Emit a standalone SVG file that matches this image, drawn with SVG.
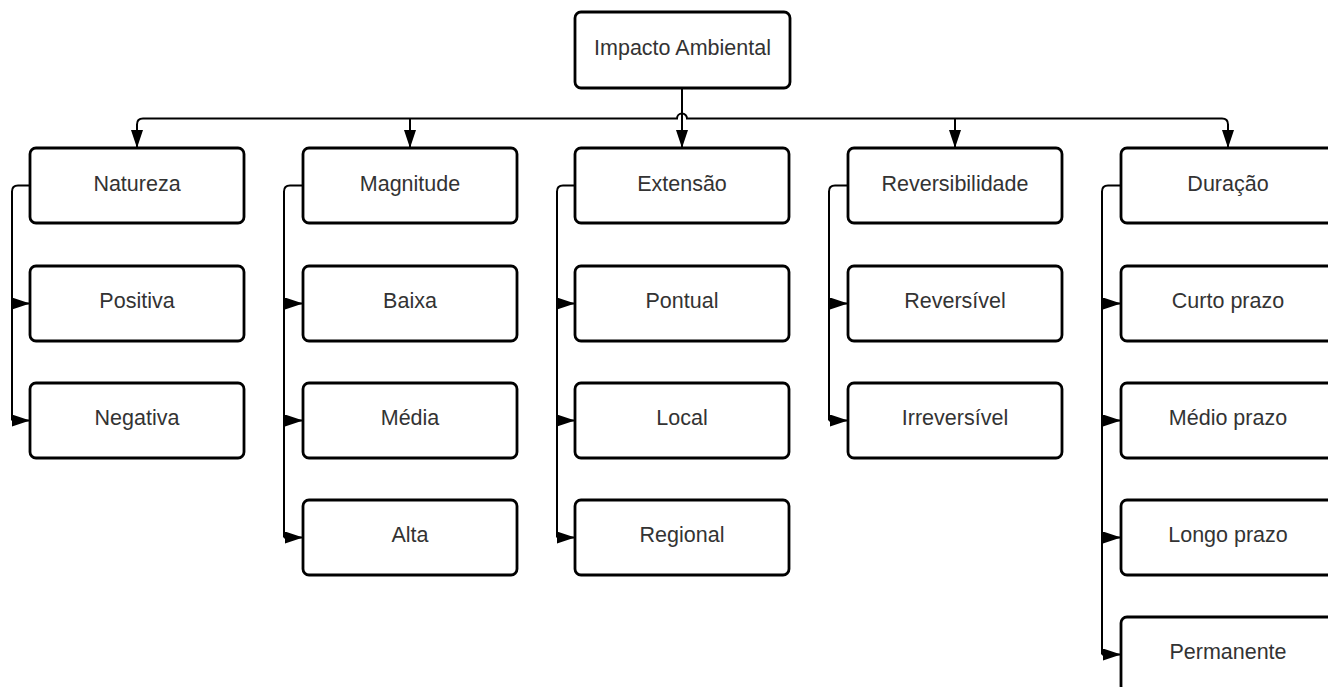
<svg xmlns="http://www.w3.org/2000/svg" width="1328" height="687" viewBox="0 0 1328 687">
  <style>
    .box { fill: #ffffff; stroke: #000000; stroke-width: 2.8; }
    .lbl { font-family: "Liberation Sans", Arial, sans-serif; font-size: 21.5px; fill: #333333; text-anchor: middle; dominant-baseline: central; }
    .wire { fill: none; stroke: #000000; stroke-width: 2; }
  </style>
  <defs>
    <marker id="arrow" markerUnits="userSpaceOnUse" markerWidth="20" markerHeight="12" refX="18" refY="6" orient="auto">
      <path d="M0,0 L18,6 L0,12 Z" fill="#000000"/>
    </marker>
  </defs>
  <rect width="1328" height="687" fill="#ffffff"/>

  <!-- connectors -->
  <g id="connectors">
    <!-- root down to Extensão -->
    <path class="wire" d="M682,88 V148" marker-end="url(#arrow)"/>
    <!-- horizontal bus with a hop over the root line -->
    <path class="wire" d="M137,148 V124.5 Q137,118.5 143,118.5 H677 A5,5 0 0 1 687,118.5 H1222 Q1228,118.5 1228,124.5 V148" />
    <path class="wire" d="M137,124 V148" marker-end="url(#arrow)"/>
    <path class="wire" d="M410,118.5 V148" marker-end="url(#arrow)"/>
    <path class="wire" d="M955,118.5 V148" marker-end="url(#arrow)"/>
    <path class="wire" d="M1228,124 V148" marker-end="url(#arrow)"/>

    <!-- Natureza children -->
    <path class="wire" d="M30,185.5 H18 Q12,185.5 12,191.5 V420.5"/>
    <path class="wire" d="M12,303.5 H30" marker-end="url(#arrow)"/>
    <path class="wire" d="M12,420.5 H30" marker-end="url(#arrow)"/>

    <!-- Magnitude children -->
    <path class="wire" d="M303,185.5 H290 Q284,185.5 284,191.5 V537.5"/>
    <path class="wire" d="M284,303.5 H303" marker-end="url(#arrow)"/>
    <path class="wire" d="M284,420.5 H303" marker-end="url(#arrow)"/>
    <path class="wire" d="M284,537.5 H303" marker-end="url(#arrow)"/>

    <!-- Extensão children -->
    <path class="wire" d="M575,185.5 H563 Q557,185.5 557,191.5 V537.5"/>
    <path class="wire" d="M557,303.5 H575" marker-end="url(#arrow)"/>
    <path class="wire" d="M557,420.5 H575" marker-end="url(#arrow)"/>
    <path class="wire" d="M557,537.5 H575" marker-end="url(#arrow)"/>

    <!-- Reversibilidade children -->
    <path class="wire" d="M848,185.5 H835 Q829,185.5 829,191.5 V420.5"/>
    <path class="wire" d="M829,303.5 H848" marker-end="url(#arrow)"/>
    <path class="wire" d="M829,420.5 H848" marker-end="url(#arrow)"/>

    <!-- Duração children -->
    <path class="wire" d="M1121,185.5 H1108 Q1102,185.5 1102,191.5 V654.5"/>
    <path class="wire" d="M1102,303.5 H1121" marker-end="url(#arrow)"/>
    <path class="wire" d="M1102,420.5 H1121" marker-end="url(#arrow)"/>
    <path class="wire" d="M1102,537.5 H1121" marker-end="url(#arrow)"/>
    <path class="wire" d="M1102,654.5 H1121" marker-end="url(#arrow)"/>
  </g>

  <!-- root -->
  <g id="impacto-ambiental">
    <rect class="box" x="575" y="12" width="215" height="76" rx="6"/>
    <text class="lbl" x="682.5" y="48">Impacto Ambiental</text>
  </g>

  <!-- Natureza column -->
  <g id="natureza">
    <rect class="box" x="30" y="148" width="214" height="75" rx="6"/>
    <text class="lbl" x="137" y="184">Natureza</text>
  </g>
  <g id="positiva">
    <rect class="box" x="30" y="266" width="214" height="75" rx="6"/>
    <text class="lbl" x="137" y="301">Positiva</text>
  </g>
  <g id="negativa">
    <rect class="box" x="30" y="383" width="214" height="75" rx="6"/>
    <text class="lbl" x="137" y="418">Negativa</text>
  </g>

  <!-- Magnitude column -->
  <g id="magnitude">
    <rect class="box" x="303" y="148" width="214" height="75" rx="6"/>
    <text class="lbl" x="410" y="184">Magnitude</text>
  </g>
  <g id="baixa">
    <rect class="box" x="303" y="266" width="214" height="75" rx="6"/>
    <text class="lbl" x="410" y="301">Baixa</text>
  </g>
  <g id="media">
    <rect class="box" x="303" y="383" width="214" height="75" rx="6"/>
    <text class="lbl" x="410" y="418">Média</text>
  </g>
  <g id="alta">
    <rect class="box" x="303" y="500" width="214" height="75" rx="6"/>
    <text class="lbl" x="410" y="535">Alta</text>
  </g>

  <!-- Extensão column -->
  <g id="extensao">
    <rect class="box" x="575" y="148" width="214" height="75" rx="6"/>
    <text class="lbl" x="682" y="184">Extensão</text>
  </g>
  <g id="pontual">
    <rect class="box" x="575" y="266" width="214" height="75" rx="6"/>
    <text class="lbl" x="682" y="301">Pontual</text>
  </g>
  <g id="local">
    <rect class="box" x="575" y="383" width="214" height="75" rx="6"/>
    <text class="lbl" x="682" y="418">Local</text>
  </g>
  <g id="regional">
    <rect class="box" x="575" y="500" width="214" height="75" rx="6"/>
    <text class="lbl" x="682" y="535">Regional</text>
  </g>

  <!-- Reversibilidade column -->
  <g id="reversibilidade">
    <rect class="box" x="848" y="148" width="214" height="75" rx="6"/>
    <text class="lbl" x="955" y="184">Reversibilidade</text>
  </g>
  <g id="reversivel">
    <rect class="box" x="848" y="266" width="214" height="75" rx="6"/>
    <text class="lbl" x="955" y="301">Reversível</text>
  </g>
  <g id="irreversivel">
    <rect class="box" x="848" y="383" width="214" height="75" rx="6"/>
    <text class="lbl" x="955" y="418">Irreversível</text>
  </g>

  <!-- Duração column -->
  <g id="duracao">
    <rect class="box" x="1121" y="148" width="214" height="75" rx="6"/>
    <text class="lbl" x="1228" y="184">Duração</text>
  </g>
  <g id="curto-prazo">
    <rect class="box" x="1121" y="266" width="214" height="75" rx="6"/>
    <text class="lbl" x="1228" y="301">Curto prazo</text>
  </g>
  <g id="medio-prazo">
    <rect class="box" x="1121" y="383" width="214" height="75" rx="6"/>
    <text class="lbl" x="1228" y="418">Médio prazo</text>
  </g>
  <g id="longo-prazo">
    <rect class="box" x="1121" y="500" width="214" height="75" rx="6"/>
    <text class="lbl" x="1228" y="535">Longo prazo</text>
  </g>
  <g id="permanente">
    <rect class="box" x="1121" y="617" width="214" height="75" rx="6"/>
    <text class="lbl" x="1228" y="652">Permanente</text>
  </g>
</svg>
